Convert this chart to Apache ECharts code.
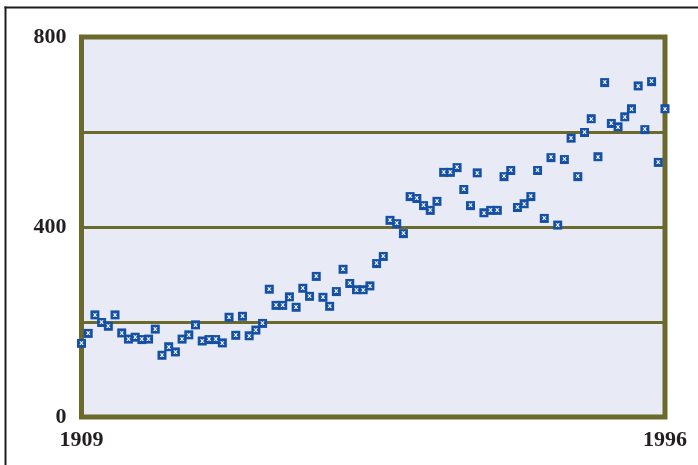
<!DOCTYPE html>
<html>
<head>
<meta charset="utf-8">
<script src="https://cdn.jsdelivr.net/npm/echarts@6/dist/echarts.min.js"></script>
<style>
  html, body { margin: 0; padding: 0; background: #ffffff; overflow: hidden; }
  #chart { width: 698px; height: 465px; }
</style>
</head>
<body>
<div id="chart"></div>
<script>
// Years 1909..1996 (one point per year)
const years = [
  1909,1910,1911,1912,1913,1914,1915,1916,1917,1918,
  1919,1920,1921,1922,1923,1924,1925,1926,1927,1928,
  1929,1930,1931,1932,1933,1934,1935,1936,1937,1938,
  1939,1940,1941,1942,1943,1944,1945,1946,1947,1948,
  1949,1950,1951,1952,1953,1954,1955,1956,1957,1958,
  1959,1960,1961,1962,1963,1964,1965,1966,1967,1968,
  1969,1970,1971,1972,1973,1974,1975,1976,1977,1978,
  1979,1980,1981,1982,1983,1984,1985,1986,1987,1988,
  1989,1990,1991,1992,1993,1994,1995,1996
];
const values = [
  155,176,215,199,191,215,177,164,168,163,
  164,185,130,148,137,164,173,194,160,163,
  163,156,210,172,212,171,183,197,269,235,
  235,253,231,271,254,296,252,233,264,311,
  281,268,268,276,323,338,414,407,386,464,
  460,445,435,454,515,515,525,479,445,514,
  430,435,435,506,519,441,449,464,519,418,
  546,404,542,587,506,599,628,548,704,618,
  611,632,649,697,605,706,536,649
];
const xLabelValues = [1909, 1996];
const yLabelValues = [0, 400, 800];

const points = years.map((y, i) => [y, values[i]]);

const chart = echarts.init(document.getElementById('chart'), null, { renderer: 'canvas' });
const labelFont = {
  fontFamily: 'Liberation Serif',
  fontWeight: 'bold',
  fontSize: 22,
  color: '#231f20'
};
chart.setOption({
  animation: false,
  backgroundColor: '#ffffff',
  graphic: [
    {
      type: 'line',
      shape: { x1: 5.5, y1: 6.5, x2: 5.5, y2: 465 },
      style: { stroke: '#1e1e1e', lineWidth: 2 },
      silent: true
    },
    {
      type: 'line',
      shape: { x1: 4.5, y1: 7.5, x2: 698, y2: 7.5 },
      style: { stroke: '#1e1e1e', lineWidth: 2 },
      silent: true
    }
  ],
  grid: {
    show: true,
    left: 81.5,
    right: 33,
    top: 37,
    bottom: 48,
    backgroundColor: '#e8ebf5',
    borderColor: '#6b6a2c',
    borderWidth: 5
  },
  xAxis: {
    type: 'value',
    min: 1909,
    max: 1996,
    axisLine: { show: false },
    axisTick: { show: false },
    splitLine: { show: false },
    axisLabel: Object.assign({
      customValues: xLabelValues,
      margin: 12,
      formatter: v => String(v)
    }, labelFont)
  },
  yAxis: {
    type: 'value',
    min: 0,
    max: 800,
    interval: 200,
    axisLine: { show: false },
    axisTick: { show: false },
    splitLine: { show: true, lineStyle: { color: '#6b6a2c', width: 3 } },
    axisLabel: Object.assign({
      customValues: yLabelValues,
      margin: 15
    }, labelFont)
  },
  series: [{
    type: 'scatter',
    data: points,
    symbol: 'rect',
    symbolSize: [9, 9],
    itemStyle: { color: '#1550a5', opacity: 1 },
    label: {
      show: true,
      position: 'inside',
      formatter: 'x',
      color: '#ffffff',
      fontSize: 7,
      fontWeight: 'bold',
      fontFamily: 'DejaVu Sans'
    },
    z: 5
  }]
});
</script>
</body>
</html>
